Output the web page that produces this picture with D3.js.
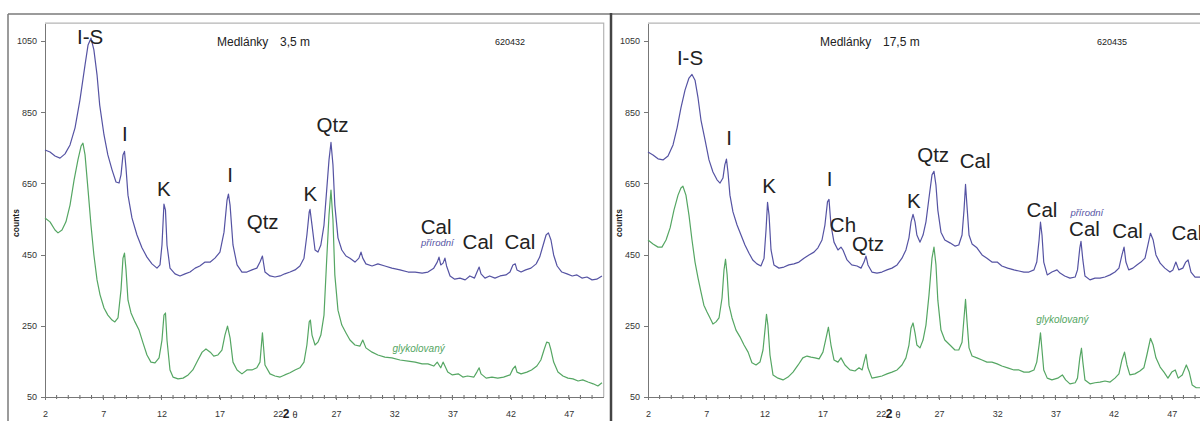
<!DOCTYPE html>
<html>
<head>
    <meta http-equiv="Content-Type" content="text/html;charset=utf-8">
    <script src="https://d3js.org/d3.v7.min.js"></script>
    <style>
        html, body {
            margin: 0;
            padding: 0;
            width: 1200px;
            height: 421px;
            background: #fff;
            overflow: hidden;
            font-family: "Liberation Sans", Arial, sans-serif;
        }

        svg {
            display: block;
        }

        .axis path, .axis line {
            stroke: #777;
            shape-rendering: crispEdges;
        }

        .axis text {
            font-size: 9px;
            fill: #333;
            font-family: "Liberation Sans", Arial, sans-serif;
        }

        .trace {
            fill: none;
            stroke-width: 1.2px;
            stroke-linejoin: round;
        }

        .peak {
            font-size: 20.5px;
            fill: #222;
        }
    </style>
</head>
<body>
<div id="chart"></div>
<script>
    // 2-theta axis and counts axis
    var xTicks = [2, 7, 12, 17, 22, 27, 32, 37, 42, 47];
    var yTicks = [50, 250, 450, 650, 850, 1050];

    // sample Medlanky 3,5 m  -- [2theta, counts]
    var leftNatural = [
        [2.0, 744], [2.43, 738], [2.86, 727], [3.29, 721], [3.72, 733], [4.15, 758], [4.58, 806], [5.0, 884],
        [5.44, 983], [5.7, 1039], [5.95, 1058], [6.2, 1025], [6.47, 955], [6.7, 870], [7.07, 786], [7.4, 730],
        [7.76, 688], [8.1, 654], [8.36, 651], [8.53, 674], [8.7, 730], [8.83, 740], [8.96, 693], [9.13, 617],
        [9.47, 553], [9.9, 505], [10.33, 469], [10.76, 443], [11.19, 424], [11.62, 412], [11.88, 421], [12.05, 477],
        [12.22, 592], [12.35, 575], [12.48, 477], [12.74, 412], [13.17, 396], [13.6, 390], [14.03, 396], [14.46, 401],
        [14.9, 412], [15.3, 418], [15.75, 429], [16.2, 429], [16.6, 440], [17.03, 457], [17.38, 513], [17.64, 603],
        [17.76, 620], [17.9, 589], [18.15, 477], [18.5, 421], [18.92, 401], [19.35, 401], [19.78, 407], [20.2, 412],
        [20.47, 429], [20.68, 446], [20.9, 401], [21.33, 390], [21.76, 387], [22.2, 390], [22.6, 396], [23.05, 401],
        [23.48, 407], [23.9, 418], [24.25, 440], [24.5, 505], [24.7, 570], [24.77, 577], [24.94, 533], [25.2, 463],
        [25.45, 457], [25.7, 477], [25.97, 533], [26.2, 631], [26.4, 716], [26.57, 765], [26.74, 702], [26.9, 589],
        [27.17, 497], [27.5, 463], [27.86, 446], [28.2, 440], [28.63, 429], [28.97, 440], [29.15, 457], [29.3, 440],
        [29.57, 424], [30.1, 418], [30.6, 424], [31.2, 418], [31.8, 412], [32.5, 407], [33.2, 401], [33.8, 401],
        [34.4, 398], [34.9, 401], [35.4, 412], [35.7, 429], [35.85, 443], [36.0, 421], [36.2, 426], [36.36, 440],
        [36.5, 418], [36.8, 390], [37.2, 381], [37.65, 384], [38.1, 379], [38.5, 390], [38.9, 384], [39.15, 404],
        [39.3, 415], [39.46, 396], [39.8, 384], [40.2, 390], [40.66, 384], [41.1, 390], [41.6, 393], [41.95, 401],
        [42.2, 421], [42.4, 424], [42.55, 407], [42.9, 401], [43.3, 407], [43.75, 412], [44.2, 424], [44.5, 443],
        [44.8, 477], [45.05, 505], [45.25, 511], [45.47, 491], [45.7, 449], [46.0, 418], [46.4, 401], [46.85, 396],
        [47.3, 390], [47.7, 393], [48.13, 384], [48.56, 387], [49.0, 379], [49.4, 381], [49.85, 390]
    ];

    var leftGlycol = [
        [2.0, 553], [2.43, 542], [2.86, 519], [3.12, 511], [3.46, 519], [3.8, 542], [4.15, 589], [4.5, 660],
        [4.83, 716], [5.1, 755], [5.26, 763], [5.44, 730], [5.7, 631], [5.95, 533], [6.2, 449], [6.47, 379],
        [6.73, 337], [7.07, 300], [7.4, 280], [7.76, 266], [8.0, 261], [8.27, 272], [8.53, 351], [8.7, 440],
        [8.83, 454], [8.96, 407], [9.13, 322], [9.39, 286], [9.73, 261], [10.08, 238], [10.42, 202], [10.76, 168],
        [11.1, 148], [11.45, 146], [11.8, 160], [12.05, 210], [12.22, 280], [12.35, 286], [12.48, 210], [12.74, 126],
        [13.0, 106], [13.43, 101], [13.86, 103], [14.3, 112], [14.7, 126], [15.14, 154], [15.5, 176], [15.83, 185],
        [16.2, 176], [16.5, 165], [16.86, 168], [17.2, 182], [17.46, 224], [17.68, 249], [17.9, 216], [18.15, 148],
        [18.5, 126], [18.92, 115], [19.35, 126], [19.78, 126], [20.2, 132], [20.47, 148], [20.68, 230], [20.9, 140],
        [21.33, 115], [21.76, 109], [22.2, 106], [22.6, 112], [23.05, 118], [23.48, 126], [23.9, 132], [24.25, 148],
        [24.5, 196], [24.7, 261], [24.8, 266], [24.94, 224], [25.2, 196], [25.45, 204], [25.7, 224], [25.97, 280],
        [26.2, 435], [26.4, 561], [26.57, 631], [26.74, 547], [26.9, 393], [27.17, 294], [27.5, 252], [27.86, 230],
        [28.2, 210], [28.63, 196], [29.06, 193], [29.3, 210], [29.57, 188], [30.1, 176], [30.6, 168], [31.2, 162],
        [31.8, 160], [32.5, 154], [33.2, 151], [33.8, 148], [34.4, 143], [34.9, 143], [35.4, 137], [35.7, 148],
        [35.85, 140], [36.0, 132], [36.2, 148], [36.36, 137], [36.6, 120], [37.0, 112], [37.5, 115], [37.9, 106],
        [38.3, 109], [38.85, 106], [39.1, 120], [39.3, 132], [39.46, 115], [39.9, 103], [40.4, 106], [40.9, 103],
        [41.4, 106], [41.95, 112], [42.2, 129], [42.4, 137], [42.55, 120], [42.9, 115], [43.4, 120], [43.8, 126],
        [44.26, 137], [44.6, 154], [44.87, 182], [45.1, 204], [45.3, 202], [45.47, 182], [45.7, 148], [46.07, 120],
        [46.5, 109], [46.93, 103], [47.36, 101], [47.8, 95], [48.2, 98], [48.65, 92], [49.1, 87], [49.5, 81],
        [49.85, 90]
    ];

    // sample Medlanky 17,5 m
    var rightNatural = [
        [2.0, 738], [2.43, 730], [2.86, 719], [3.29, 716], [3.72, 727], [4.15, 758], [4.5, 806], [4.83, 862],
        [5.18, 912], [5.52, 946], [5.78, 956], [6.04, 940], [6.3, 890], [6.55, 828], [6.9, 772], [7.24, 716],
        [7.58, 682], [7.93, 660], [8.19, 651], [8.44, 665], [8.6, 702], [8.74, 718], [8.87, 682], [9.04, 617],
        [9.3, 570], [9.65, 533], [9.99, 505], [10.33, 477], [10.68, 454], [11.0, 435], [11.36, 424], [11.7, 418],
        [11.97, 440], [12.14, 519], [12.27, 597], [12.4, 561], [12.57, 463], [12.82, 421], [13.25, 412], [13.68, 415],
        [14.1, 421], [14.54, 424], [14.97, 429], [15.4, 440], [15.83, 449], [16.26, 457], [16.6, 469], [16.95, 491],
        [17.2, 533], [17.42, 598], [17.55, 605], [17.72, 533], [17.98, 485], [18.32, 463], [18.58, 471], [18.75, 463],
        [19.1, 435], [19.5, 421], [19.96, 418], [20.3, 412], [20.56, 429], [20.73, 446], [20.9, 421], [21.24, 401],
        [21.67, 398], [22.1, 401], [22.53, 407], [22.96, 412], [23.4, 421], [23.82, 440], [24.16, 463], [24.42, 497],
        [24.6, 542], [24.77, 563], [24.94, 542], [25.1, 505], [25.37, 485], [25.63, 505], [25.88, 542], [26.14, 609],
        [26.4, 674], [26.57, 684], [26.74, 645], [26.9, 575], [27.17, 513], [27.5, 491], [27.94, 483], [28.37, 474],
        [28.7, 477], [28.98, 505], [29.15, 575], [29.28, 647], [29.4, 589], [29.58, 505], [29.84, 480], [30.26, 469],
        [30.7, 449], [31.12, 440], [31.55, 429], [32.0, 429], [32.4, 418], [32.9, 412], [33.44, 407], [33.87, 404],
        [34.3, 401], [34.73, 401], [35.16, 407], [35.4, 429], [35.6, 491], [35.72, 541], [35.85, 505], [36.0, 429],
        [36.3, 393], [36.7, 401], [37.14, 407], [37.4, 398], [37.8, 390], [38.25, 384], [38.7, 387], [38.9, 407],
        [39.1, 469], [39.2, 487], [39.36, 435], [39.54, 390], [39.97, 379], [40.4, 384], [40.83, 384], [41.26, 387],
        [41.7, 393], [42.12, 401], [42.46, 412], [42.72, 449], [42.9, 471], [43.06, 429], [43.3, 407], [43.66, 412],
        [44.0, 421], [44.35, 429], [44.7, 440], [44.95, 477], [45.17, 510], [45.4, 491], [45.64, 449], [46.0, 426],
        [46.4, 412], [46.84, 401], [47.1, 407], [47.35, 429], [47.6, 407], [47.95, 412], [48.2, 429], [48.4, 435],
        [48.65, 401], [49.0, 387], [49.4, 387], [49.84, 381]
    ];

    var rightGlycol = [
        [2.0, 491], [2.43, 480], [2.86, 471], [3.2, 471], [3.55, 491], [3.9, 525], [4.23, 575], [4.58, 617],
        [4.83, 637], [5.0, 642], [5.26, 617], [5.52, 561], [5.78, 491], [6.04, 429], [6.3, 384], [6.55, 345],
        [6.8, 308], [7.07, 289], [7.33, 272], [7.58, 255], [7.84, 261], [8.1, 272], [8.36, 328], [8.53, 407],
        [8.66, 437], [8.8, 393], [8.96, 308], [9.22, 272], [9.56, 238], [9.9, 219], [10.25, 196], [10.6, 176],
        [10.93, 146], [11.28, 140], [11.62, 148], [11.88, 182], [12.05, 238], [12.18, 282], [12.3, 252], [12.48, 168],
        [12.74, 112], [13.17, 103], [13.6, 98], [14.03, 106], [14.46, 120], [14.9, 140], [15.3, 160], [15.66, 165],
        [16.0, 162], [16.35, 160], [16.7, 157], [17.03, 176], [17.3, 216], [17.5, 246], [17.72, 196], [17.98, 154],
        [18.32, 148], [18.58, 160], [18.92, 140], [19.35, 126], [19.78, 123], [20.13, 132], [20.4, 126], [20.56, 148],
        [20.73, 170], [20.9, 132], [21.24, 103], [21.67, 106], [22.1, 109], [22.53, 115], [22.96, 120], [23.4, 126],
        [23.82, 140], [24.16, 160], [24.42, 196], [24.6, 244], [24.77, 258], [24.94, 230], [25.1, 196], [25.37, 188],
        [25.63, 210], [25.88, 252], [26.14, 336], [26.4, 440], [26.57, 471], [26.74, 421], [26.9, 322], [27.17, 238],
        [27.5, 210], [27.94, 196], [28.37, 182], [28.7, 182], [28.98, 204], [29.15, 272], [29.28, 324], [29.4, 266],
        [29.58, 188], [29.84, 165], [30.26, 160], [30.7, 154], [31.12, 148], [31.55, 148], [32.0, 143], [32.4, 137],
        [32.9, 132], [33.44, 126], [33.87, 126], [34.3, 120], [34.73, 120], [35.16, 126], [35.4, 148], [35.6, 196],
        [35.72, 230], [35.85, 182], [36.0, 126], [36.3, 103], [36.7, 98], [37.2, 103], [37.6, 112], [37.88, 98],
        [38.25, 87], [38.7, 90], [38.9, 103], [39.1, 160], [39.24, 187], [39.36, 148], [39.54, 98], [39.97, 87],
        [40.4, 90], [40.83, 92], [41.26, 95], [41.7, 92], [42.12, 103], [42.46, 115], [42.72, 154], [42.94, 176],
        [43.15, 140], [43.4, 112], [43.83, 115], [44.26, 123], [44.6, 132], [44.86, 168], [45.17, 215], [45.4, 196],
        [45.64, 160], [46.0, 134], [46.33, 120], [46.67, 103], [47.0, 120], [47.3, 126], [47.55, 103], [47.9, 112],
        [48.25, 140], [48.5, 120], [48.75, 84], [49.1, 76], [49.44, 76], [49.85, 81]
    ];

    // peak labels: [text, 2theta, counts at baseline]
    var leftLabels = [
        ["I-S", 5.87, 1042], ["I", 8.87, 769], ["K", 12.2, 615], ["I", 17.9, 654], ["Qtz", 20.7, 522],
        ["K", 24.8, 601], ["Qtz", 26.7, 794], ["Cal", 35.6, 508], ["Cal", 39.2, 466], ["Cal", 42.8, 466]
    ];
    var rightLabels = [
        ["I-S", 5.61, 983], ["I", 8.96, 758], ["K", 12.4, 623], ["I", 17.6, 643], ["Ch", 18.75, 513],
        ["Qtz", 20.9, 460], ["K", 24.85, 581], ["Qtz", 26.5, 710], ["Cal", 30.1, 693], ["Cal", 35.85, 556],
        ["Cal", 39.5, 502], ["Cal", 43.2, 497], ["Cal", 48.3, 491]
    ];

    var width = 1200,
        height = 421;

    var svg = d3.select("#chart").append("svg")
        .attr("width", width)
        .attr("height", height);

    // outer frame lines
    svg.append("line").attr("x1", 8).attr("x2", width).attr("y1", 14).attr("y2", 14)
        .attr("stroke", "#7a7a7a").attr("stroke-width", 1.5);
    svg.append("line").attr("x1", 8).attr("x2", 8).attr("y1", 14).attr("y2", height)
        .attr("stroke", "#7a7a7a").attr("stroke-width", 1.5);
    svg.append("line").attr("x1", 611).attr("x2", 611).attr("y1", 13).attr("y2", height)
        .attr("stroke", "#444").attr("stroke-width", 2.5);

    function drawPanel(p) {
        var x = d3.scaleLinear().domain([2, 50]).range([p.left, p.left + 558.7]),
            y = d3.scaleLinear().domain([50, 1100]).range([397, 23.2]);

        var g = svg.append("g");

        // light frame (top and right)
        g.append("path")
            .attr("d", "M" + x(2) + "," + y(1100) + "H" + x(50) + "V" + y(50))
            .attr("fill", "none")
            .attr("stroke", "#b5b5b5")
            .attr("stroke-width", 1.2);

        // minor ticks every degree, crossing the axis
        g.append("g").selectAll("line")
            .data(d3.range(3, 50))
            .enter().append("line")
            .attr("x1", function (d) { return x(d); })
            .attr("x2", function (d) { return x(d); })
            .attr("y1", 395)
            .attr("y2", 399)
            .attr("stroke", "#666");

        g.append("g")
            .attr("class", "axis")
            .attr("transform", "translate(0,397)")
            .call(d3.axisBottom(x).tickValues(xTicks).tickSize(3).tickSizeOuter(0).tickPadding(11));

        g.append("g")
            .attr("class", "axis")
            .attr("transform", "translate(" + p.left + ",0)")
            .call(d3.axisLeft(y).tickValues(yTicks).tickFormat(d3.format("d"))
                .tickSize(4).tickSizeOuter(0).tickPadding(4));

        var line = d3.line()
            .x(function (d) { return x(d[0]); })
            .y(function (d) { return y(d[1]); });

        g.append("path").datum(p.glycol).attr("class", "trace")
            .attr("stroke", "#55a663").attr("d", line);
        g.append("path").datum(p.natural).attr("class", "trace")
            .attr("stroke", "#5553a3").attr("d", line);

        g.selectAll("text.peak")
            .data(p.labels)
            .enter().append("text")
            .attr("class", "peak")
            .attr("x", function (d) { return x(d[1]); })
            .attr("y", function (d) { return y(d[2]); })
            .attr("text-anchor", "middle")
            .text(function (d) { return d[0]; });

        // sample title and number
        g.append("text").attr("x", p.left + p.titleX).attr("y", 46)
            .attr("font-size", 12).attr("fill", "#222").text("Medlánky");
        g.append("text").attr("x", p.left + p.titleX + 63).attr("y", 46)
            .attr("font-size", 12).attr("fill", "#222").text(p.depth);
        g.append("text").attr("x", p.left + p.numX).attr("y", 45)
            .attr("font-size", 9).attr("fill", "#222").text(p.num);

        // series notes
        g.append("text").attr("x", x(p.natNote[0])).attr("y", y(p.natNote[1]))
            .attr("text-anchor", "middle").attr("font-size", 9.5).attr("font-style", "italic")
            .attr("fill", "#5553a3").text("přírodní");
        g.append("text").attr("x", x(p.glyNote[0])).attr("y", y(p.glyNote[1]))
            .attr("text-anchor", "middle").attr("font-size", 10).attr("font-style", "italic")
            .attr("fill", "#55a663").text("glykolovaný");

        // axis titles
        g.append("text")
            .attr("transform", "translate(" + (p.left - 26) + ",223) rotate(-90)")
            .attr("text-anchor", "middle").attr("font-size", 8.5).attr("font-weight", "bold")
            .attr("fill", "#222").text("counts");
        var xt = g.append("text").attr("x", x(22) + 5).attr("y", 418).attr("fill", "#222");
        xt.append("tspan").attr("font-size", 12).attr("font-weight", "bold").text("2");
        xt.append("tspan").attr("font-size", 9).attr("dx", 3).text("θ");
    }

    drawPanel({
        left: 45, natural: leftNatural, glycol: leftGlycol, labels: leftLabels,
        titleX: 172, numX: 450, depth: "3,5 m", num: "620432",
        natNote: [35.7, 474], glyNote: [34.1, 176]
    });

    drawPanel({
        left: 648, natural: rightNatural, glycol: rightGlycol, labels: rightLabels,
        titleX: 172, numX: 449, depth: "17,5 m", num: "620435",
        natNote: [39.7, 558], glyNote: [37.6, 258]
    });
</script>
</body>
</html>
